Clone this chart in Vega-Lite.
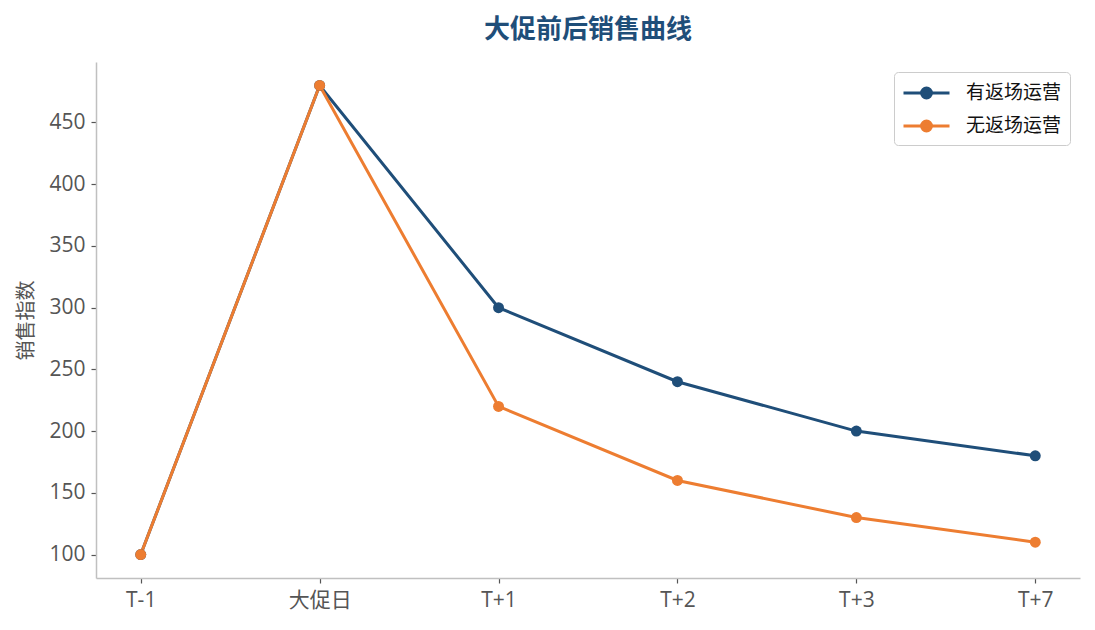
{
  "$schema": "https://vega.github.io/schema/vega-lite/v6.json",
  "width": 984,
  "height": 516,
  "autosize": {"type": "none"},
  "padding": {"left": 96, "top": 62, "right": 15, "bottom": 52},
  "background": "white",
  "title": {
    "text": "大促前后销售曲线",
    "font": "Noto Sans CJK SC",
    "fontSize": 26,
    "fontWeight": "bold",
    "color": "#1f4e79",
    "anchor": "middle",
    "offset": 19
  },
  "config": {
    "view": {"stroke": null},
    "font": "Open Sans, Noto Sans CJK SC",
    "axis": {
      "domainColor": "#c0c0c0",
      "domainWidth": 1.5,
      "tickColor": "#555555",
      "tickSize": 5,
      "tickWidth": 1.2,
      "labelColor": "#555555",
      "labelFontSize": 21,
      "labelFont": "Open Sans, Noto Sans CJK SC",
      "titleColor": "#555555",
      "titleFont": "Noto Sans CJK SC",
      "titleFontSize": 20,
      "titleFontWeight": "normal",
      "grid": false
    }
  },
  "data": {
    "values": [
      {"day": "T-1", "series": "有返场运营", "value": 100},
      {"day": "大促日", "series": "有返场运营", "value": 480},
      {"day": "T+1", "series": "有返场运营", "value": 300},
      {"day": "T+2", "series": "有返场运营", "value": 240},
      {"day": "T+3", "series": "有返场运营", "value": 200},
      {"day": "T+7", "series": "有返场运营", "value": 180},
      {"day": "T-1", "series": "无返场运营", "value": 100},
      {"day": "大促日", "series": "无返场运营", "value": 480},
      {"day": "T+1", "series": "无返场运营", "value": 220},
      {"day": "T+2", "series": "无返场运营", "value": 160},
      {"day": "T+3", "series": "无返场运营", "value": 130},
      {"day": "T+7", "series": "无返场运营", "value": 110}
    ]
  },
  "encoding": {
    "x": {
      "field": "day",
      "type": "ordinal",
      "sort": ["T-1", "大促日", "T+1", "T+2", "T+3", "T+7"],
      "scale": {"type": "point", "padding": 0.25},
      "axis": {"title": null, "labelAngle": 0, "labelPadding": 6}
    },
    "y": {
      "field": "value",
      "type": "quantitative",
      "scale": {"domain": [81, 499], "nice": false, "zero": false},
      "axis": {"title": "销售指数", "values": [100, 150, 200, 250, 300, 350, 400, 450], "titlePadding": 12, "labelPadding": 6}
    },
    "color": {
      "field": "series",
      "type": "nominal",
      "sort": ["有返场运营", "无返场运营"],
      "scale": {"domain": ["有返场运营", "无返场运营"], "range": ["#1f4e79", "#ed7d31"]},
      "legend": {
        "title": null,
        "orient": "top-right",
        "offset": 10,
        "labelFont": "Noto Sans CJK SC",
        "labelFontSize": 19,
        "labelColor": "#111111",
        "symbolType": "M-1,0H3M0.57,0A0.43,0.43 0 1 1 1.43,0A0.43,0.43 0 1 1 0.57,0Z",
        "symbolSize": 529,
        "symbolStrokeWidth": 3,
        "strokeColor": "#cccccc",
        "cornerRadius": 4,
        "padding": 8,
        "rowPadding": 9,
        "labelOffset": 38,
        "fillColor": "white"
      }
    }
  },
  "layer": [
    {"mark": {"type": "line", "strokeWidth": 3}},
    {"mark": {"type": "point", "filled": true, "size": 120, "opacity": 1}}
  ]
}
